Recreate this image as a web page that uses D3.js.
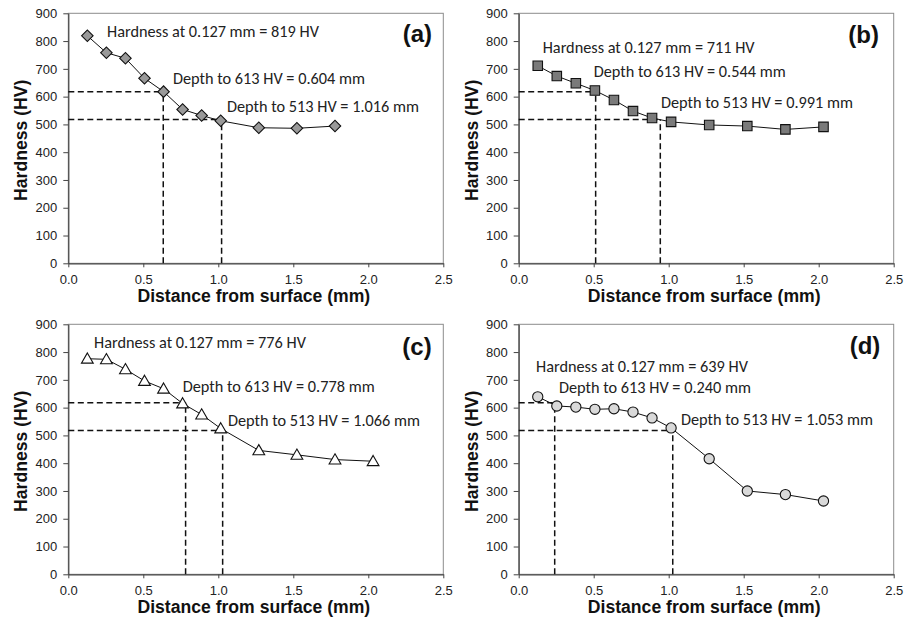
<head>
    <meta charset="utf-8">
    <title>hardness profiles</title>
    <script src="https://d3js.org/d3.v7.min.js"></script>
    <style>
        body { margin: 0; background: #fff; }
        .tick text { font-family: "Liberation Sans", Arial, sans-serif; font-size: 13px; fill: #222; }
        .note { font-family: Carlito, Calibri, Lato, sans-serif; font-size: 16.3px; fill: #222; }
        .axis-title { font-family: "Liberation Sans", Arial, sans-serif; font-size: 17.6px; font-weight: bold; fill: #111; }
        .tag { font-family: "Liberation Sans", Arial, sans-serif; font-size: 24px; font-weight: bold; fill: #111; }
    </style>
</head>

<body>
    <svg width="904" height="625"></svg>
    <script>
        // distance from surface (mm)
        var distA = [0.127, 0.254, 0.381, 0.508, 0.635, 0.762, 0.889, 1.016, 1.27, 1.524, 1.778];
        var distBCD = [0.127, 0.254, 0.381, 0.508, 0.635, 0.762, 0.889, 1.016, 1.27, 1.524, 1.778, 2.032];

        // hardness (HV)
        var hardA = [819, 758, 738, 666, 618, 554, 532, 513, 488, 486, 494];
        var hardB = [711, 674, 648, 622, 588, 548, 523, 509, 498, 494, 482, 491];
        var hardC = [776, 774, 738, 696, 668, 615, 575, 525, 446, 430, 413, 407];
        var hardD = [639, 606, 602, 594, 596, 584, 563, 527, 416, 300, 287, 264];

        // dashed guide lines: hardness levels and depths where they are crossed
        var guideLevels = [618, 518];
        var guideDepthA = [0.633, 1.022];
        var guideDepthB = [0.513, 0.944];
        var guideDepthC = [0.782, 1.029];
        var guideDepthD = [0.240, 1.027];

        var notesA = ["Hardness at 0.127 mm = 819 HV", "Depth to 613 HV = 0.604 mm", "Depth to 513 HV = 1.016 mm"];
        var notesB = ["Hardness at 0.127 mm = 711 HV", "Depth to 613 HV = 0.544 mm", "Depth to 513 HV = 0.991 mm"];
        var notesC = ["Hardness at 0.127 mm = 776 HV", "Depth to 613 HV = 0.778 mm", "Depth to 513 HV = 1.066 mm"];
        var notesD = ["Hardness at 0.127 mm = 639 HV", "Depth to 613 HV = 0.240 mm", "Depth to 513 HV = 1.053 mm"];

        var xTicks = [0, 0.5, 1, 1.5, 2, 2.5];
        var yTicks = [0, 100, 200, 300, 400, 500, 600, 700, 800, 900];

        var plotW = 375, plotH = 250;

        // layout of each panel: plot origin, marker style, note positions (px from plot corner)
        var panels = [
            { tag: "(a)", x0: 68.3, y0: 13.3, dist: distA, hard: hardA, guide: guideDepthA, notes: notesA,
              shape: "diamond", fill: "#999",
              notePos: [[38.7, 24], [104.7, 70.7], [158.7, 98.7]], tagPos: [363.7, 29] },
            { tag: "(b)", x0: 518.7, y0: 13.3, dist: distBCD, hard: hardB, guide: guideDepthB, notes: notesB,
              shape: "square", fill: "#7a7a7a",
              notePos: [[24, 39.7], [75, 63.4], [142.3, 94.7]], tagPos: [360.3, 30] },
            { tag: "(c)", x0: 68.3, y0: 324.3, dist: distBCD, hard: hardC, guide: guideDepthC, notes: notesC,
              shape: "triangle", fill: "#fff",
              notePos: [[25.7, 23.7], [114.4, 67.7], [159.7, 101.7]], tagPos: [363.4, 30.7] },
            { tag: "(d)", x0: 518.7, y0: 324.3, dist: distBCD, hard: hardD, guide: guideDepthD, notes: notesD,
              shape: "circle", fill: "#d9d9d9",
              notePos: [[17.3, 48], [40.3, 69], [162.3, 100.7]], tagPos: [361.6, 29.7] }
        ];

        var svg = d3.select("svg");

        var x = d3.scaleLinear().domain([0, 2.5]).range([0, plotW]);
        var y = d3.scaleLinear().domain([0, 900]).range([plotH, 0]);

        var symbols = {
            diamond: d3.symbol().type(d3.symbolSquare).size(66),
            square: d3.symbol().type(d3.symbolSquare).size(90),
            triangle: d3.symbol().type(d3.symbolTriangle).size(60),
            circle: d3.symbol().type(d3.symbolCircle).size(82)
        };

        panels.forEach(function (p) {
            var g = svg.append("g").attr("transform", "translate(" + p.x0 + "," + p.y0 + ")");

            // plot frame
            g.append("rect")
                .attr("width", plotW).attr("height", plotH)
                .attr("fill", "none").attr("stroke", "#8c8c8c").attr("stroke-width", 1);

            var xAxis = g.append("g")
                .attr("transform", "translate(0," + plotH + ")")
                .call(d3.axisBottom(x).tickValues(xTicks).tickSize(4).tickPadding(7).tickSizeOuter(0));
            var yAxis = g.append("g")
                .call(d3.axisLeft(y).tickValues(yTicks).tickSize(5).tickPadding(6).tickSizeOuter(0));
            [xAxis, yAxis].forEach(function (a) {
                a.select(".domain").attr("stroke", "#444").attr("stroke-width", 1.2);
                a.selectAll(".tick line").attr("stroke", "#444");
            });

            // dashed guides
            var dash = g.append("g")
                .attr("stroke", "#111").attr("stroke-width", 1.5)
                .attr("stroke-dasharray", "6,3.5").attr("fill", "none");
            guideLevels.forEach(function (lv, i) {
                dash.append("line")
                    .attr("x1", x(0)).attr("x2", x(p.guide[i]))
                    .attr("y1", y(lv)).attr("y2", y(lv));
                dash.append("line")
                    .attr("x1", x(p.guide[i])).attr("x2", x(p.guide[i]))
                    .attr("y1", y(0)).attr("y2", y(lv));
            });

            var pts = p.dist.map(function (d, i) { return [d, p.hard[i]]; });

            g.append("path")
                .datum(pts)
                .attr("fill", "none").attr("stroke", "#111").attr("stroke-width", 1)
                .attr("d", d3.line().x(function (d) { return x(d[0]); }).y(function (d) { return y(d[1]); }));

            g.selectAll(".pt")
                .data(pts)
                .enter()
                .append("path")
                .attr("class", "pt")
                .attr("transform", function (d) {
                    var t = "translate(" + x(d[0]) + "," + y(d[1]) + ")";
                    if (p.shape == "diamond") t += " rotate(45)";
                    if (p.shape == "triangle") t += " translate(0,1)";
                    return t;
                })
                .attr("d", symbols[p.shape])
                .attr("fill", p.fill)
                .attr("stroke", "#111").attr("stroke-width", 1.1);

            p.notes.forEach(function (txt, i) {
                g.append("text").attr("class", "note")
                    .attr("x", p.notePos[i][0]).attr("y", p.notePos[i][1])
                    .text(txt);
            });

            g.append("text").attr("class", "tag")
                .attr("x", p.tagPos[0]).attr("y", p.tagPos[1])
                .attr("text-anchor", "end")
                .text(p.tag);

            g.append("text").attr("class", "axis-title")
                .attr("x", plotW / 2 - 2).attr("y", plotH + 38.5)
                .attr("text-anchor", "middle")
                .text("Distance from surface (mm)");

            g.append("text").attr("class", "axis-title")
                .attr("transform", "translate(-41," + (plotH / 2 + 2) + ") rotate(-90)")
                .attr("text-anchor", "middle")
                .text("Hardness (HV)");
        });
    </script>

</body>
